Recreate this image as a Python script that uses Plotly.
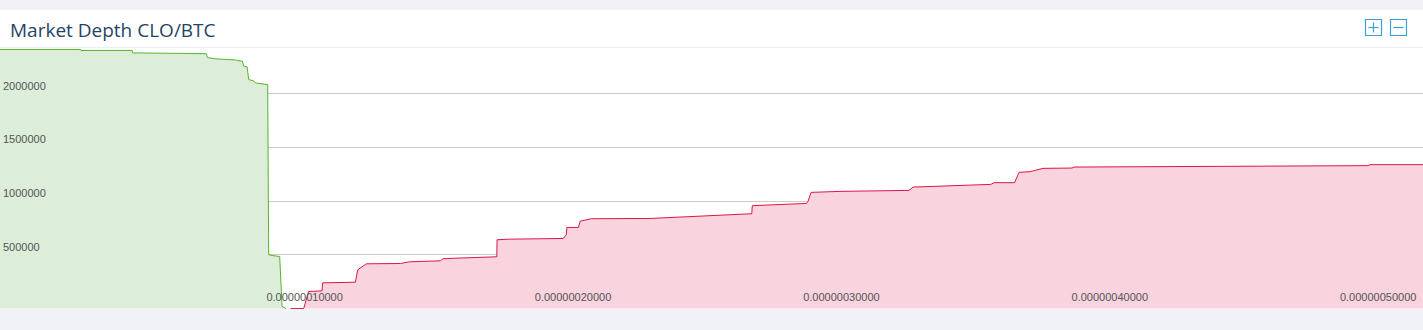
import plotly.graph_objects as go

# ---- data (price in BTC, cumulative volume in CLO) ----
bid_price = [0.0, 2.998e-8, 3.017e-8, 4.924e-8, 4.935e-8, 7.691e-8, 7.728e-8, 8.026e-8,
             8.771e-8, 8.845e-8, 9.032e-8, 9.080e-8, 9.207e-8, 9.266e-8, 9.453e-8,
             9.516e-8, 9.974e-8, 1.0011e-7, 1.0138e-7, 1.0421e-7, 1.0510e-7, 1.0659e-7]
bid_volume = [2410300, 2410300, 2401000, 2401000, 2378600, 2371200, 2335800, 2322700,
              2313400, 2307800, 2301300, 2254700, 2248200, 2130800, 2117800,
              2099100, 2084200, 500300, 493800, 484500, 18600, 0]

ask_price = [1.082e-7, 1.1315e-7, 1.150e-7, 1.200e-7, 1.202e-7, 1.324e-7, 1.333e-7, 1.365e-7,
             1.492e-7, 1.525e-7, 1.641e-7, 1.650e-7, 1.695e-7, 1.851e-7, 1.852e-7, 1.898e-7,
             2.099e-7, 2.110e-7, 2.112e-7, 2.155e-7, 2.162e-7, 2.203e-7, 2.426e-7, 2.601e-7,
             2.697e-7, 2.801e-7, 2.803e-7, 3.005e-7, 3.011e-7, 3.022e-7, 3.130e-7, 3.277e-7,
             3.387e-7, 3.402e-7, 3.574e-7, 3.692e-7, 3.704e-7, 3.780e-7, 3.797e-7, 3.838e-7,
             3.886e-7, 3.994e-7, 4.002e-7, 4.758e-7, 5.097e-7, 5.104e-7, 5.302e-7]
ask_volume = [0, 0, 158400, 164900, 239400, 245000, 360600, 416500,
              419300, 435100, 444400, 463100, 468600, 481700, 640100, 645700,
              652200, 686700, 754700, 754700, 813400, 835700, 838500, 860000,
              873000, 882300, 956900, 978300, 999700, 1080800, 1090100, 1096600,
              1099400, 1130200, 1148800, 1155300, 1171100, 1171100, 1267100, 1273600,
              1304400, 1307200, 1316500, 1325800, 1329500, 1338800, 1338800]

x_tick_vals = [1e-7, 2e-7, 3e-7, 4e-7, 5e-7]
x_tick_text = ["0.00000010000", "0.00000020000", "0.00000030000", "0.00000040000", "0.00000050000"]
y_tick_vals = [500000, 1000000, 1500000, 2000000]
y_tick_text = ["500000", "1000000", "1500000", "2000000"]

title_text = "Market Depth CLO/BTC"

W, H = 1423, 330
TOP, BOTTOM = 48, 309
PH = BOTTOM - TOP


def py(p):
    """pixel row -> paper y"""
    return (BOTTOM - p) / PH


def px(p):
    return p / W


fig = go.Figure()
fig.add_trace(go.Scatter(x=bid_price, y=bid_volume, mode="lines", fill="tozeroy",
                         line=dict(color="#57b52c", width=1), fillcolor="#dcedd9",
                         hoverinfo="skip", showlegend=False))
fig.add_trace(go.Scatter(x=ask_price, y=ask_volume, mode="lines", fill="tozeroy",
                         line=dict(color="#dc1746", width=1), fillcolor="#f9d3de",
                         hoverinfo="skip", showlegend=False))

shapes = [
    dict(type="rect", xref="paper", yref="paper", x0=0, x1=1, y0=py(TOP), y1=py(10),
         fillcolor="white", line=dict(width=0), layer="below"),
    dict(type="line", xref="paper", yref="paper", x0=0, x1=1, y0=py(TOP - 0.5), y1=py(TOP - 0.5),
         line=dict(color="#eceef5", width=1)),
]
btn_color = "#3ba0d8"
for bx in (1365.5, 1390.5):
    shapes.append(dict(type="rect", xref="paper", yref="paper", x0=px(bx), x1=px(bx + 16),
                       y0=py(35.5), y1=py(19.5), line=dict(color=btn_color, width=1.2),
                       fillcolor="white"))
    shapes.append(dict(type="line", xref="paper", yref="paper", x0=px(bx + 3), x1=px(bx + 13),
                       y0=py(27.5), y1=py(27.5), line=dict(color=btn_color, width=1.2)))
shapes.append(dict(type="line", xref="paper", yref="paper", x0=px(1373.5), x1=px(1373.5),
                   y0=py(22.5), y1=py(32.5), line=dict(color=btn_color, width=1.2)))

fig.update_layout(
    width=W, height=H,
    margin=dict(l=0, r=0, t=TOP, b=H - BOTTOM, pad=0),
    paper_bgcolor="#f1f2f7", plot_bgcolor="white",
    shapes=shapes,
    annotations=[dict(text=title_text, xref="paper", yref="paper", x=px(8), y=py(29.5),
                      xanchor="left", yanchor="middle", showarrow=False,
                      font=dict(family="Open Sans", size=19, color="#1f4566"))],
    xaxis=dict(range=[0, 5.302e-7], tickvals=x_tick_vals, ticktext=x_tick_text,
               showgrid=False, zeroline=False, showline=False, ticks="",
               ticklabelposition="inside right", ticklabelshift=-2,
               tickfont=dict(family="Liberation Sans", size=11, color="#555555")),
    yaxis=dict(range=[-4000, 2424000], tickvals=y_tick_vals, ticktext=y_tick_text,
               showgrid=True, gridcolor="#cccccc", gridwidth=1, zeroline=False,
               showline=False, ticks="", ticklabelposition="inside top",
               tickfont=dict(family="Liberation Sans", size=11, color="#555555")),
)

fig.write_html("out.html", config={"displayModeBar": False})
